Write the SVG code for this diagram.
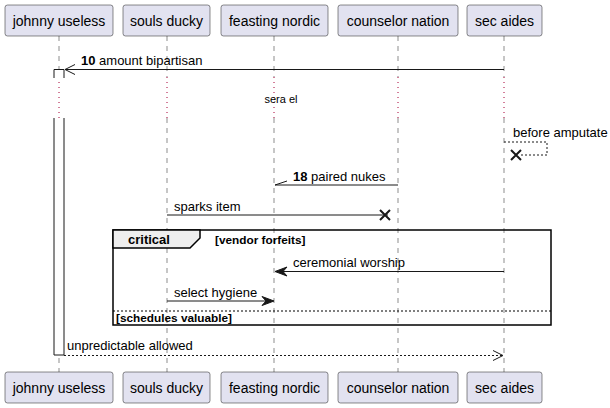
<svg xmlns="http://www.w3.org/2000/svg" width="610" height="408" viewBox="0 0 610 408">
<style>
text{font-family:"Liberation Sans",Arial,sans-serif;fill:#000}
.pbox{fill:#E2E2F0;stroke:#181818;stroke-width:0.5}
.pt{font-size:14px;text-anchor:middle}
.life{stroke:#181818;stroke-width:0.5;stroke-dasharray:5,5;fill:none}
.delay{stroke:#A80036;stroke-width:1;stroke-dasharray:1,4;fill:none}
.msg{stroke:#181818;stroke-width:1;fill:none}
.dash{stroke:#181818;stroke-width:1;fill:none;stroke-dasharray:2,2}
.m{font-size:13px}
.b{font-weight:bold}
.x{stroke:#181818;stroke-width:2}
.frame{fill:none;stroke:#000;stroke-width:1.5}
.ft{font-size:11.8px;font-weight:bold}
</style>
<defs>
<g id="p-johnny"><rect class="pbox" x="5" y="0" width="108" height="31" rx="2.5"/><text class="pt" x="59" y="20.5">johnny useless</text></g>
<g id="p-souls"><rect class="pbox" x="123" y="0" width="87" height="31" rx="2.5"/><text class="pt" x="166.5" y="20.5">souls ducky</text></g>
<g id="p-feasting"><rect class="pbox" x="221" y="0" width="107" height="31" rx="2.5"/><text class="pt" x="274.5" y="20.5">feasting nordic</text></g>
<g id="p-counselor"><rect class="pbox" x="338" y="0" width="120" height="31" rx="2.5"/><text class="pt" x="398" y="20.5">counselor nation</text></g>
<g id="p-sec"><rect class="pbox" x="467" y="0" width="75" height="31" rx="2.5"/><text class="pt" x="504.5" y="20.5">sec aides</text></g>
</defs>

<g id="lifelines">
<path class="life" d="M59,36V77M59,118V372M167,36V77M167,118V372M274,36V77M274,118V372M398,36V77M398,118V372M504,36V77M504,118V372"/>
<path class="delay" d="M59,77V118M167,77V118M274,77V118M398,77V118M504,77V118"/>
</g>

<g id="activation">
<path d="M54,118V355H64V118" fill="#fff" stroke="#181818" stroke-width="1"/>
<path d="M54,78V69.5H64V78" fill="#fff" stroke="#181818" stroke-width="1"/>
</g>

<g id="fragment">
<rect class="frame" x="113" y="230" width="438" height="95"/>
<path d="M113,230H200V238L190,248H113Z" fill="#EEEEEE" stroke="#000" stroke-width="1.5"/>
<text class="b" x="128" y="244" font-size="13">critical</text>
<text class="ft" x="215" y="244">[vendor forfeits]</text>
<line x1="113" y1="311" x2="551" y2="311" stroke="#000" stroke-width="1" stroke-dasharray="2,2"/>
<text class="ft" x="116" y="322">[schedules valuable]</text>
</g>

<g id="connectors">
<!-- 10 amount bipartisan -->
<line class="msg" x1="504" y1="69.5" x2="65" y2="69.5"/>
<polyline class="msg" points="75,64.5 65,69.5 75,74.5"/>
<text class="m" x="81" y="65"><tspan class="b">10</tspan> amount bipartisan</text>
<!-- delay -->
<text x="281" y="103" font-size="11" text-anchor="middle">sera el</text>
<!-- before amputate -->
<polyline class="dash" points="504,142 547,142 547,155 521,155"/>
<path class="x" d="M511,150L521,160M521,150L511,160"/>
<text class="m" x="513" y="137">before amputate</text>
<!-- 18 paired nukes -->
<line class="msg" x1="398" y1="185" x2="275" y2="185"/>
<line class="msg" x1="275" y1="185" x2="287" y2="181"/>
<text class="m" x="293" y="181"><tspan class="b">18</tspan> paired nukes</text>
<!-- sparks item -->
<line class="msg" x1="167" y1="215" x2="388" y2="215"/>
<path class="x" d="M380,210L390,220M390,210L380,220"/>
<text class="m" x="174" y="211">sparks item</text>
<!-- ceremonial worship -->
<line class="msg" x1="504" y1="271.5" x2="280" y2="271.5"/>
<polygon points="275,271.5 287,267 283,271.5 287,276" fill="#181818" stroke="#181818" stroke-width="1"/>
<text class="m" x="293" y="267">ceremonial worship</text>
<!-- select hygiene -->
<line class="msg" x1="167" y1="301" x2="270" y2="301"/>
<polygon points="274,301 262,296.5 266,301 262,305.5" fill="#181818" stroke="#181818" stroke-width="1"/>
<text class="m" x="174" y="297">select hygiene</text>
<!-- unpredictable allowed -->
<line class="dash" x1="64" y1="355.5" x2="503" y2="355.5"/>
<polyline class="msg" points="493,350.5 503,355.5 493,360.5"/>
<text class="m" x="67" y="350">unpredictable allowed</text>
</g>

<g id="participants-top" transform="translate(0,5)">
<use href="#p-johnny"/><use href="#p-souls"/><use href="#p-feasting"/><use href="#p-counselor"/><use href="#p-sec"/>
</g>
<g id="participants-bottom" transform="translate(0,372)">
<use href="#p-johnny"/><use href="#p-souls"/><use href="#p-feasting"/><use href="#p-counselor"/><use href="#p-sec"/>
</g>
</svg>
